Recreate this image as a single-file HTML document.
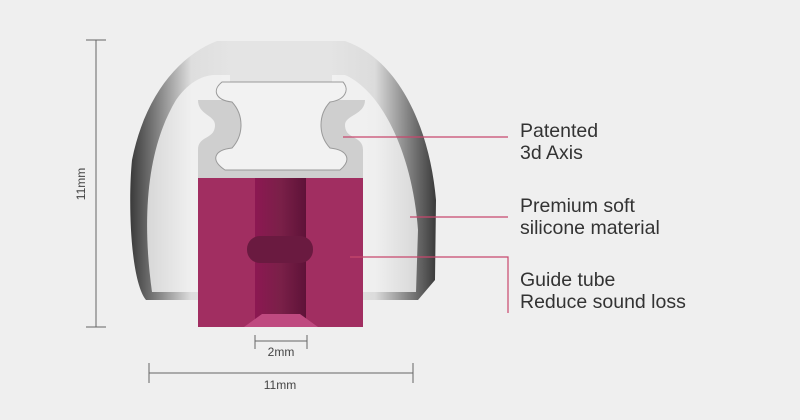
<!DOCTYPE html>
<html><head><style>
body{margin:0;background:#efefef;}
svg{display:block;font-family:"Liberation Sans",sans-serif;}
</style></head><body>
<svg width="800" height="420" viewBox="0 0 800 420">
<defs>
<linearGradient id="dome" x1="0" x2="1" y1="0" y2="0">
<stop offset="0" stop-color="#3a3a3a"/><stop offset="0.08" stop-color="#7a7a7a"/><stop offset="0.2" stop-color="#dedede"/><stop offset="0.5" stop-color="#ececec"/><stop offset="0.8" stop-color="#dcdcdc"/><stop offset="0.92" stop-color="#7a7a7a"/><stop offset="1" stop-color="#3a3a3a"/>
</linearGradient>
<linearGradient id="tube" x1="0" x2="1"><stop offset="0" stop-color="#8c1852"/><stop offset="0.5" stop-color="#7a2048"/><stop offset="1" stop-color="#5e1238"/></linearGradient>
</defs>
<!-- dome -->
<path d="M217,41 L345,41 C400,60 430,130 436,200 L435,280 L418,300 L363,300 L363,178 L198,178 L198,300 L146,300 C130,280 128,200 132,160 C145,95 180,55 217,41 Z" fill="url(#dome)"/>
<path d="M152,292 C142,220 146,150 176,100 C190,80 205,75 215,75 L345,75 C380,90 412,150 418,230 L416,292 Z" fill="#f4f4f4" opacity="0.8"/>
<path d="M230,41 L332,41 L332,100 L230,100 Z" fill="#e4e4e4"/>
<!-- axis -->
<path d="M198,100 L365,100 C365,115 345,115 345,125 C345,140 363,135 363,150 L363,178 L198,178 L198,150 C198,135 215,140 215,125 C215,115 198,115 198,100Z" fill="#cfcfcf"/>
<path d="M222,82 L343,82 C350,90 345,100 330,102 C318,115 318,135 330,148 C348,150 352,160 340,170 L225,170 C210,160 214,150 232,148 C244,135 244,115 232,102 C215,100 212,90 222,82Z" fill="#f2f2f2" stroke="#9a9a9a" stroke-width="1"/>
<!-- magenta block -->
<rect x="198" y="178" width="165" height="149" fill="#a12e61"/>
<rect x="255" y="178" width="51" height="149" fill="url(#tube)"/>
<rect x="247" y="236" width="66" height="27" rx="13" fill="#6a1a40"/>
<path d="M244,327 L262,314 L300,314 L318,327 Z" fill="#bf4a80"/>
<!-- leaders -->
<g stroke="#c8476d" stroke-width="1.2" fill="none">
<path d="M343,137 H508"/><path d="M410,217 H508"/><path d="M350,257 H508 V313"/>
</g>
<g font-size="19.5" fill="#333">
<text x="520" y="137">Patented</text><text x="520" y="159">3d Axis</text>
<text x="520" y="212">Premium soft</text><text x="520" y="234">silicone material</text>
<text x="520" y="286">Guide tube</text><text x="520" y="308">Reduce sound loss</text>
</g>
<!-- dimensions -->
<g stroke="#666" stroke-width="1" fill="none">
<path d="M96,40 V327 M86,40 H106 M86,327 H106"/>
<path d="M149,373 H413 M149,363 V383 M413,363 V383"/>
<path d="M255,341 H307 M255,335 V349 M307,335 V349"/>
</g>
<g font-size="12" fill="#444" text-anchor="middle">
<text x="281" y="356">2mm</text>
<text x="280" y="389">11mm</text>
<text transform="translate(85,184) rotate(-90)">11mm</text>
</g>
</svg>
</body></html>
